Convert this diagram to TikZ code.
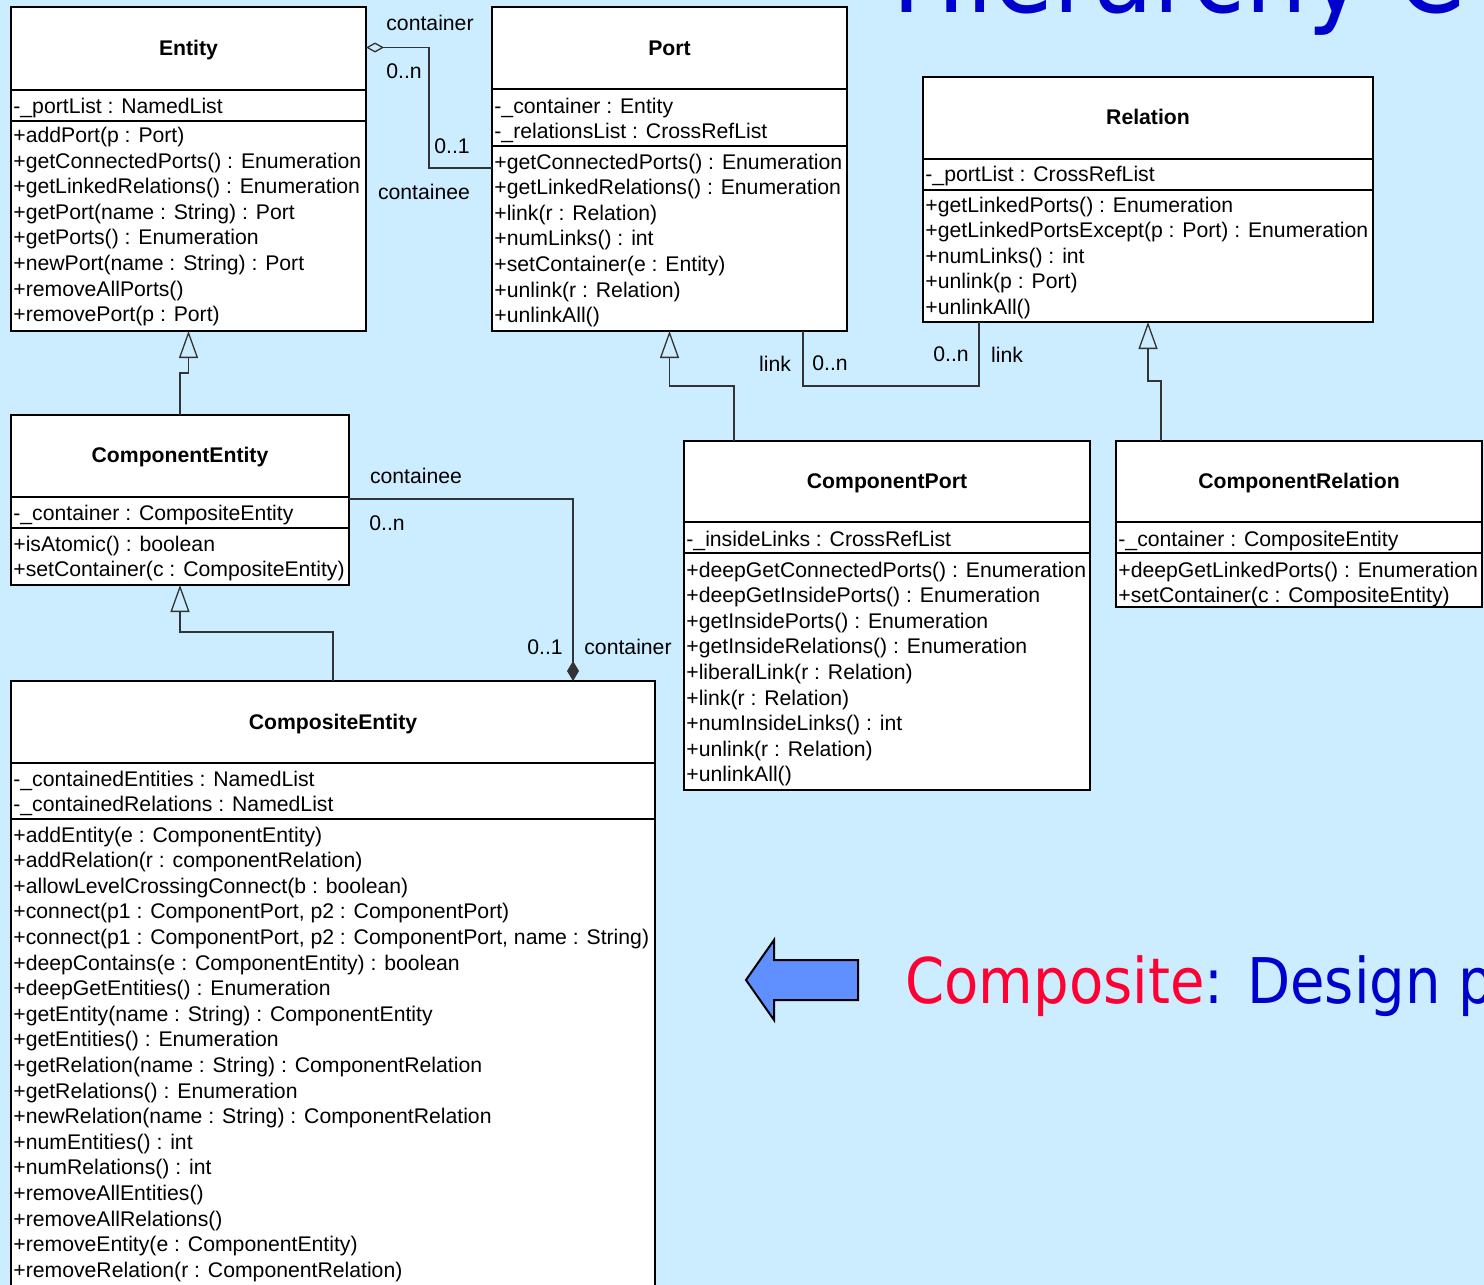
\documentclass[tikz,border=0pt]{standalone}
\usepackage{fontspec}
\setmainfont{Liberation Sans}
\newfontfamily\slidefont[FakeStretch=0.89]{DejaVu Sans}
\usetikzlibrary{arrows.meta,calc}
\definecolor{bg}{HTML}{CCECFF}
\definecolor{slidered}{HTML}{FF0033}
\definecolor{slideblue}{HTML}{0000CC}
\definecolor{arrowfill}{HTML}{6090FF}
\newcommand\umlclass[7]{%
  \node[frame, anchor=north west, minimum width={(#4-#2)*0.5pt}, minimum height={(#7-#3)*0.5pt}] (#1) at (#2,#3) {};
  \draw[sepline] (#2,#5) -- (#4,#5) (#2,#6) -- (#4,#6);}
\newcommand\umlrows[4]{\foreach \t [count=\i from 0] in {#4} {\node[mtext] (#1\i) at (#2,{#3+1.5+25.6*\i}) {\t};}}
\begin{document}
\begin{tikzpicture}[x=0.5pt,y=-0.5pt,
  frame/.style={draw=black, line width=1pt, fill=white, inner sep=0pt, outer sep=0pt, rectangle},
  sepline/.style={line width=1pt},
  mtext/.style={anchor=base west, inner sep=0pt, font=\fontsize{10.6}{12}\selectfont},
  ttext/.style={anchor=base, inner sep=0pt, font=\fontsize{10.6}{12}\selectfont\bfseries},
  lbl/.style={anchor=base, inner sep=0pt, font=\fontsize{10.6}{12}\selectfont},
  conn/.style={draw=black!80, line width=0.65pt},
  gen/.style={conn, -{Triangle[open, length=13.5pt, width=9.5pt]}},
  aggr/.style={conn, {Diamond[open, length=9pt, width=5pt]}-},
  compo/.style={conn, {Diamond[length=10pt, width=6pt]}-},
  bigarrow/.style={draw=black, line width=1pt, fill=arrowfill, line join=miter}]
\fill[bg] (0,0) rectangle (1484,1285);
\useasboundingbox (0,0) rectangle (1484,1285);

% slide texts
\node[anchor=base west, inner sep=0pt, font=\slidefont\fontsize{55}{60}\selectfont, text=slideblue] (title) at (892,12) {Hierarchy C};
\node[anchor=base west, inner sep=0pt, font=\slidefont\fontsize{31.5}{36}\selectfont] (subtitle) at (905,1003) {\textcolor{slidered}{Composite}\textcolor{slideblue}{: Design p}};
\draw[bigarrow] (746,980) -- (774,940) -- (774,960) -- (858,960) -- (858,1000) -- (774,1000) -- (774,1020) -- cycle;

% Entity
\umlclass{entity}{11}{7}{366}{90}{121}{331}
\node[ttext] (entity-t) at (188.5,55) {Entity};
\umlrows{entity-a}{13}{112}{-\_portList : NamedList}
\umlrows{entity-m}{13}{141}{+addPort(p : Port),+getConnectedPorts() : Enumeration,+getLinkedRelations() : Enumeration,+getPort(name : String) : Port,+getPorts() : Enumeration,+newPort(name : String) : Port,+removeAllPorts(),+removePort(p : Port)}

% Port
\umlclass{port}{492}{7}{847}{89}{146}{331}
\node[ttext] (port-t) at (669.5,55) {Port};
\umlrows{port-a}{494}{111.5}{-\_container : Entity,-\_relationsList : CrossRefList}
\umlrows{port-m}{494}{167.5}{+getConnectedPorts() : Enumeration,+getLinkedRelations() : Enumeration,+link(r : Relation),+numLinks() : int,+setContainer(e : Entity),+unlink(r : Relation),+unlinkAll()}

% Relation
\umlclass{relation}{923}{77}{1373}{159}{190}{322}
\node[ttext] (relation-t) at (1148,124) {Relation};
\umlrows{relation-a}{925}{179.5}{-\_portList : CrossRefList}
\umlrows{relation-m}{925}{210.5}{+getLinkedPorts() : Enumeration,+getLinkedPortsExcept(p : Port) : Enumeration,+numLinks() : int,+unlink(p : Port),+unlinkAll()}

% ComponentEntity
\umlclass{compent}{11}{415}{349}{497}{528}{585}
\node[ttext] (compent-t) at (180,462) {ComponentEntity};
\umlrows{compent-a}{13}{518.5}{-\_container : CompositeEntity}
\umlrows{compent-m}{13}{549.5}{+isAtomic() : boolean,+setContainer(c : CompositeEntity)}

% ComponentPort
\umlclass{cport}{684}{441}{1090}{522}{553}{790}
\node[ttext] (cport-t) at (887,488) {ComponentPort};
\umlrows{cport-a}{686}{544.5}{-\_insideLinks : CrossRefList}
\umlrows{cport-m}{686}{575.5}{+deepGetConnectedPorts() : Enumeration,+deepGetInsidePorts() : Enumeration,+getInsidePorts() : Enumeration,+getInsideRelations() : Enumeration,+liberalLink(r : Relation),+link(r : Relation),+numInsideLinks() : int,+unlink(r : Relation),+unlinkAll()}

% ComponentRelation
\umlclass{crel}{1116}{441}{1482}{522}{553}{607}
\node[ttext] (crel-t) at (1299,488) {ComponentRelation};
\umlrows{crel-a}{1118}{544.5}{-\_container : CompositeEntity}
\umlrows{crel-m}{1118}{575.5}{+deepGetLinkedPorts() : Enumeration,+setContainer(c : CompositeEntity)}

% CompositeEntity
\umlclass{composite}{11}{681}{655}{763}{819}{1300}
\node[ttext] (composite-t) at (333,729) {CompositeEntity};
\umlrows{composite-a}{13}{784.5}{-\_containedEntities : NamedList,-\_containedRelations : NamedList}
\umlrows{composite-m}{13}{840.5}{+addEntity(e : ComponentEntity),+addRelation(r : componentRelation),+allowLevelCrossingConnect(b : boolean),{+connect(p1 : ComponentPort, p2 : ComponentPort)},{+connect(p1 : ComponentPort, p2 : ComponentPort, name : String)},+deepContains(e : ComponentEntity) : boolean,+deepGetEntities() : Enumeration,+getEntity(name : String) : ComponentEntity,+getEntities() : Enumeration,+getRelation(name : String) : ComponentRelation,+getRelations() : Enumeration,+newRelation(name : String) : ComponentRelation,+numEntities() : int,+numRelations() : int,+removeAllEntities(),+removeAllRelations(),+removeEntity(e : ComponentEntity),+removeRelation(r : ComponentRelation)}

% connectors
\draw[aggr] ($(entity.north east)+(0,40.5)$) -| ($(port.north west)+(-63,161)$) -- ($(port.north west)+(0,161)$);
\draw[gen] (compent.north) -- ++(0,-42) -| (entity.south);
\draw[gen] (composite.north) -- ++(0,-49) -| (compent.south);
\draw[compo] ($(composite.north west)+(562,0)$) |- ($(compent.north east)+(0,84)$);
\draw[gen] ($(cport.north west)+(50,0)$) -- ++(0,-55) -| (port.south);
\draw[gen] ($(crel.north west)+(45,0)$) -- ++(0,-60) -| (relation.south);
\draw[conn] ($(port.south east)+(-44,0)$) -- ++(0,55) -| ($(relation.south west)+(56,0)$);

% connector labels
\node[lbl] (l-container1) at (430,30.5) {container};
\node[lbl] (l-0n1) at (404,78) {0..n};
\node[lbl] (l-011) at (452,153) {0..1};
\node[lbl] (l-containee1) at (424,199) {containee};
\node[lbl] (l-link1) at (775,371) {link};
\node[lbl] (l-0n2) at (830,370.5) {0..n};
\node[lbl] (l-0n3) at (951,361.5) {0..n};
\node[lbl] (l-link2) at (1007,362) {link};
\node[lbl] (l-containee2) at (416,483) {containee};
\node[lbl] (l-0n4) at (387,530) {0..n};
\node[lbl] (l-012) at (545,654) {0..1};
\node[lbl] (l-container2) at (628,654) {container};
\end{tikzpicture}
\end{document}
